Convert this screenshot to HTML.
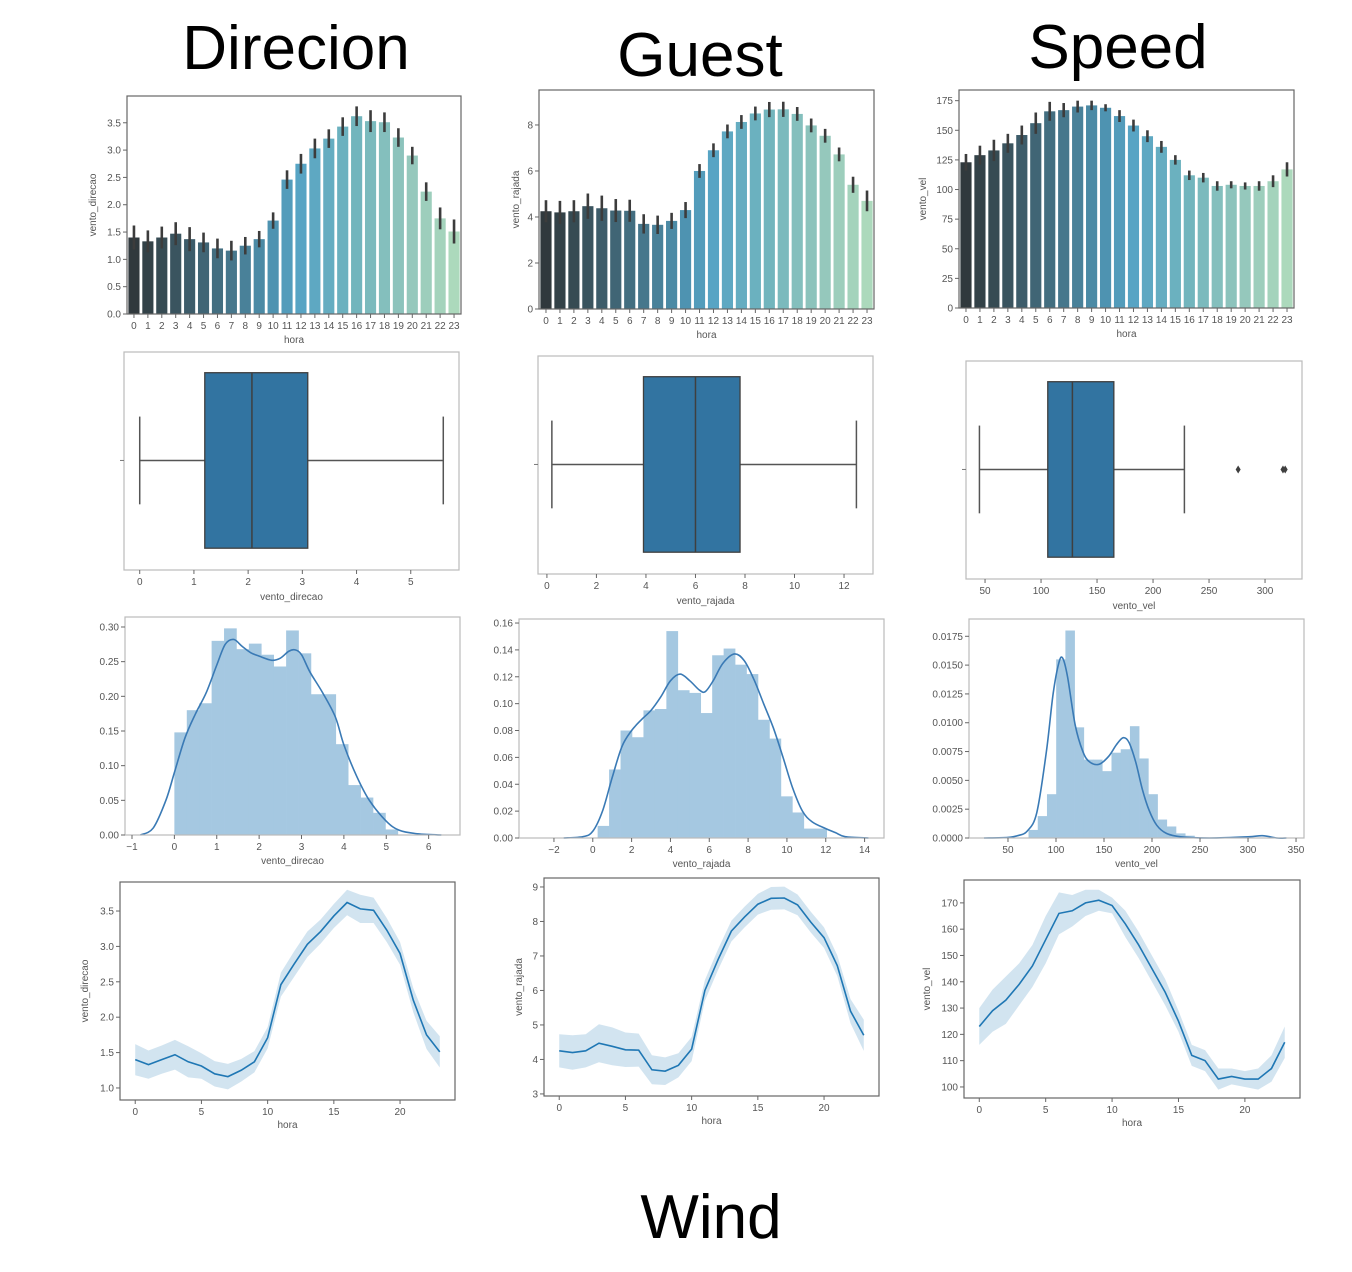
<!DOCTYPE html>
<html><head><meta charset="utf-8"><style>
html,body{margin:0;padding:0;background:#fff;width:1352px;height:1272px;overflow:hidden}
svg{display:block}
text{font-family:"Liberation Sans",sans-serif}
</style></head><body>
<svg id="fig" width="1352" height="1272" viewBox="0 0 1352 1272" xmlns="http://www.w3.org/2000/svg">
<text x="296" y="69" font-size="62" text-anchor="middle" fill="#000">Direcion</text>
<text x="700" y="76" font-size="62" text-anchor="middle" fill="#000">Guest</text>
<text x="1118" y="68" font-size="62" text-anchor="middle" fill="#000">Speed</text>
<text x="711" y="1238" font-size="62" text-anchor="middle" fill="#000">Wind</text>
</svg>
<script>
const hours = [0,1,2,3,4,5,6,7,8,9,10,11,12,13,14,15,16,17,18,19,20,21,22,23];
const direcaoMeans = [1.40,1.33,1.40,1.47,1.37,1.31,1.20,1.16,1.25,1.37,1.71,2.46,2.75,3.03,3.21,3.43,3.62,3.53,3.51,3.23,2.90,2.24,1.75,1.51];
const direcaoCI = [0.22,0.2,0.2,0.21,0.22,0.18,0.18,0.18,0.16,0.15,0.15,0.17,0.18,0.18,0.17,0.17,0.18,0.2,0.18,0.17,0.16,0.17,0.2,0.22];
const rajadaMeans = [4.25,4.2,4.25,4.47,4.38,4.28,4.27,3.7,3.66,3.83,4.3,6.0,6.9,7.72,8.13,8.5,8.67,8.68,8.48,7.98,7.53,6.72,5.4,4.7];
const rajadaCI = [0.48,0.5,0.48,0.55,0.55,0.5,0.48,0.42,0.4,0.35,0.35,0.3,0.3,0.3,0.3,0.3,0.33,0.33,0.3,0.3,0.3,0.3,0.35,0.45];
const velMeans = [123,129,133,139,146,156,166,167,170,171,169,162,154,145,136,125,112,110,103,104,103,103,107,117];
const velCI = [7,8,9,8,8,9,8,6,5,4,3,5,5,5,5,4,4,4,4,3,3,4,5,6];

const direcaoBox = [0, 1.2, 2.07, 3.1, 5.6];
const rajadaBox = [0.2, 3.9, 6.0, 7.8, 12.5];
const velBox = [45, 106, 128, 165, 228];
const velOutliers = [276, 316, 318];

const direcaoBinStart = 0, direcaoBinWidth = 0.293;
const direcaoHist = [0.148,0.18,0.19,0.28,0.298,0.268,0.276,0.26,0.243,0.295,0.262,0.203,0.203,0.131,0.072,0.054,0.032,0.008];
const direcaoKdeX = [-0.8,-0.5,-0.2,0,0.25,0.5,0.75,1,1.2,1.4,1.6,1.8,2.0,2.3,2.5,2.7,2.85,3.0,3.2,3.5,3.8,4.0,4.3,4.6,5.0,5.3,5.7,6.3];
const direcaoKdeY = [0,0.01,0.05,0.09,0.14,0.175,0.205,0.245,0.275,0.282,0.272,0.263,0.258,0.252,0.255,0.265,0.267,0.26,0.235,0.205,0.17,0.13,0.085,0.05,0.02,0.007,0.002,0];
const rajadaBinStart = 0.25, rajadaBinWidth = 0.59;
const rajadaHist = [0.009,0.051,0.080,0.075,0.095,0.096,0.154,0.110,0.108,0.093,0.136,0.141,0.129,0.122,0.088,0.074,0.031,0.019,0.007,0.007];
const rajadaKdeX = [-1.5,-0.5,0,0.5,1,1.5,2,2.5,3,3.5,4,4.5,5,5.5,5.8,6.2,6.7,7.3,7.8,8.3,8.8,9.3,9.8,10.3,10.8,11.3,12,12.5,13,14.2];
const rajadaKdeY = [0,0.001,0.005,0.02,0.045,0.068,0.08,0.088,0.095,0.105,0.117,0.122,0.117,0.11,0.109,0.117,0.13,0.137,0.132,0.118,0.1,0.082,0.06,0.037,0.02,0.012,0.007,0.004,0.001,0];
const velBinStart = 71.4, velBinWidth = 9.6;
const velHist = [0.0007,0.0019,0.0038,0.0155,0.018,0.0096,0.0068,0.0068,0.0058,0.0074,0.0077,0.0097,0.0069,0.0038,0.0016,0.0010,0.0004,0.0002];
const velKdeX = [25,50,60,70,80,90,97,103,107,112,120,128,135,145,155,163,170,176,183,190,197,205,215,230,260,300,315,330,340];
const velKdeY = [0,0.00005,0.0002,0.0006,0.0022,0.0075,0.0125,0.0152,0.0156,0.014,0.0098,0.0075,0.0066,0.0064,0.0071,0.0081,0.0087,0.0083,0.0066,0.0042,0.0024,0.0011,0.0004,0.0001,0,0.0001,0.0002,0,0];

const NS = "http://www.w3.org/2000/svg";
const fig = document.getElementById('fig');
function mk(tag, attrs, parent){ const e=document.createElementNS(NS,tag); for(const k in attrs) e.setAttribute(k,attrs[k]); (parent||fig).appendChild(e); return e; }
function lin(d0,d1,r0,r1){ return v => r0 + (v-d0)*(r1-r0)/(d1-d0); }
function smoothPath(pts){
  let d='M'+pts[0][0]+' '+pts[0][1];
  for(let i=0;i<pts.length-1;i++){
    const p0=pts[i-1]||pts[i], p1=pts[i], p2=pts[i+1], p3=pts[i+2]||p2;
    const c1=[p1[0]+(p2[0]-p0[0])/6, p1[1]+(p2[1]-p0[1])/6];
    const c2=[p2[0]-(p3[0]-p1[0])/6, p2[1]-(p3[1]-p1[1])/6];
    d+=` C${c1[0]} ${c1[1]} ${c2[0]} ${c2[1]} ${p2[0]} ${p2[1]}`;
  }
  return d;
}

function frame(g,L,T,R,B,light){
  const f=mk('rect',{x:L,y:T,width:R-L,height:B-T,fill:'none',stroke:light?'#bbb':'#666','stroke-width':1.2},g);
  
  
}
function yTicks(g,L,ys,vals,labels){
  vals.forEach((v,i)=>{
    const y=ys(v);
    mk('line',{x1:L-4,x2:L,y1:y,y2:y,stroke:'#666'},g);
    const t=mk('text',{x:L-6,y:y+3.5,'font-size':10,'text-anchor':'end',fill:'#555'},g);
    t.textContent=labels[i];
    
    
  });
}
function xTicks(g,B,xs,vals,labels){
  vals.forEach((v,i)=>{
    const x=xs(v);
    mk('line',{x1:x,x2:x,y1:B,y2:B+4,stroke:'#666'},g);
    const t=mk('text',{x:x,y:B+15,'font-size':10,'text-anchor':'middle',fill:'#555'},g);
    t.textContent=labels[i];
    
    
  });
}
function xLabel(g,x,y,s){ const t=mk('text',{x:x,y:y,'font-size':10,'text-anchor':'middle',fill:'#555'},g); t.textContent=s;
  
   }
function yLabel(g,x,y,s){ const t=mk('text',{x:x,y:y,'font-size':10,'text-anchor':'middle',fill:'#555',transform:`rotate(-90 ${x} ${y})`},g); t.textContent=s;
  
   }

const pal=[[48,57,61],[67,110,128],[78,147,177],[87,164,196],[114,181,189],[149,200,188],[172,217,188]];
const palPos=[0,6,10,12,16,20,23];
function barColor(i){
  for(let k=0;k<palPos.length-1;k++){ if(i<=palPos[k+1]){ const f=(i-palPos[k])/(palPos[k+1]-palPos[k]); const c=pal[k].map((a,j)=>Math.round(a+(pal[k+1][j]-a)*f)); return `rgb(${c})`; } }
  return `rgb(${pal[pal.length-1]})`;
}

function barPanel(name,L,T,R,B,ymax,means,ci,tv,tl,ylab,ylx){
  const g=mk('g',{});
  
  
  const ys=lin(0,ymax,B,T); const band=(R-L)/hours.length;
  hours.forEach((h,i)=>{
    const cx=L+band*(i+0.5);
    const r=mk('rect',{x:cx-band*0.4,y:ys(means[i]),width:band*0.8,height:B-ys(means[i]),fill:barColor(i)},g);
    
    
    const e=mk('line',{x1:cx,x2:cx,y1:ys(means[i]-ci[i]),y2:ys(means[i]+ci[i]),stroke:'#3c3c3c','stroke-width':2.6},g);
    
    
  });
  frame(g,L,T,R,B,false);
  yTicks(g,L,ys,tv,tl);
  xTicks(g,B,i=>L+band*(i+0.5),hours.map((h,i)=>i),hours.map(String));
  xLabel(g,(L+R)/2,B+29,'hora');
  yLabel(g,ylx,(T+B)/2,ylab);
}
function boxPanel(name,L,T,R,B,d0,d1,box,outl,tv,xlab){
  const g=mk('g',{});
  
  
  const xs=lin(d0,d1,L,R); const h=B-T; const bt=T+h*0.095, bb=B-h*0.1, cy=(bt+bb)/2, ch=(bb-bt)/4;
  frame(g,L,T,R,B,true);
  mk('line',{x1:L-4,x2:L,y1:cy,y2:cy,stroke:'#777'},g);
  mk('line',{x1:xs(box[0]),x2:xs(box[1]),y1:cy,y2:cy,stroke:'#555','stroke-width':1.5},g);
  mk('line',{x1:xs(box[3]),x2:xs(box[4]),y1:cy,y2:cy,stroke:'#555','stroke-width':1.5},g);
  mk('line',{x1:xs(box[0]),x2:xs(box[0]),y1:cy-ch,y2:cy+ch,stroke:'#555','stroke-width':1.5},g);
  mk('line',{x1:xs(box[4]),x2:xs(box[4]),y1:cy-ch,y2:cy+ch,stroke:'#555','stroke-width':1.5},g);
  const r=mk('rect',{x:xs(box[1]),y:bt,width:xs(box[3])-xs(box[1]),height:bb-bt,fill:'#3274a1',stroke:'#3f3f3f','stroke-width':1.3},g);
  
  
  mk('line',{x1:xs(box[2]),x2:xs(box[2]),y1:bt,y2:bb,stroke:'#3f3f3f','stroke-width':1.5},g);
  outl.forEach(v=>{ const o=mk('path',{d:`M${xs(v)} ${cy-4} L${xs(v)+2.5} ${cy} L${xs(v)} ${cy+4} L${xs(v)-2.5} ${cy} Z`,fill:'#3f3f3f'},g);
    
     });
  xTicks(g,B,xs,tv,tv.map(String));
  xLabel(g,(L+R)/2,B+30,xlab);
}
function histPanel(name,L,T,R,B,x0,x1,ymax,bs,bw,hist,kx,ky,xt,yt,ytl,xlab){
  const g=mk('g',{});
  
  
  const xs=lin(x0,x1,L,R), ys=lin(0,ymax,B,T);
  hist.forEach((v,i)=>{ const a=xs(bs+bw*i), b=xs(bs+bw*(i+1));
    const r=mk('rect',{x:a,y:ys(v),width:b-a+0.3,height:B-ys(v),fill:'#a5c8e1'},g);
    
     });
  const p=mk('path',{d:smoothPath(kx.map((x,i)=>[xs(x),ys(ky[i])])),fill:'none',stroke:'#3a7ab5','stroke-width':1.6},g);
  
  
  frame(g,L,T,R,B,true);
  yTicks(g,L,ys,yt,ytl);
  xTicks(g,B,xs,xt,xt.map(v=>v<0?'\u2212'+(-v):String(v)));
  xLabel(g,(L+R)/2,B+29,xlab);
}
function linePanel(name,L,T,R,B,y0,y1,means,ci,yt,ylab,ylx){
  const g=mk('g',{});
  
  
  const xs=lin(-1.15,24.15,L,R), ys=lin(y0,y1,B,T);
  const up=hours.map((h,i)=>xs(h)+','+ys(means[i]+ci[i])), dn=hours.map((h,i)=>xs(h)+','+ys(means[i]-ci[i])).reverse();
  const band=mk('polygon',{points:up.concat(dn).join(' '),fill:'#1f77b4','fill-opacity':0.2},g);
  
  
  const p=mk('polyline',{points:hours.map((h,i)=>xs(h)+','+ys(means[i])).join(' '),fill:'none',stroke:'#1f77b4','stroke-width':1.6},g);
  
  
  frame(g,L,T,R,B,false);
  yTicks(g,L,ys,yt,yt.map(v=>(y1<20)?(y1<5?v.toFixed(1):String(v)):String(v)));
  xTicks(g,B,xs,[0,5,10,15,20],['0','5','10','15','20']);
  xLabel(g,(L+R)/2,B+28,'hora');
  yLabel(g,ylx,(T+B)/2,ylab);
}

barPanel('bar-direcao',127,96,461,314,3.99,direcaoMeans,direcaoCI,[0,0.5,1,1.5,2,2.5,3,3.5],['0.0','0.5','1.0','1.5','2.0','2.5','3.0','3.5'],'vento_direcao',96);
barPanel('bar-rajada',539,90,874,309,9.52,rajadaMeans,rajadaCI,[0,2,4,6,8],['0','2','4','6','8'],'vento_rajada',519);
barPanel('bar-vel',959,90,1294,308,184,velMeans,velCI,[0,25,50,75,100,125,150,175],['0','25','50','75','100','125','150','175'],'vento_vel',926);

boxPanel('box-direcao',124,352,459,570,-0.29,5.89,direcaoBox,[],[0,1,2,3,4,5],'vento_direcao');
boxPanel('box-rajada',538,356,873,574,-0.36,13.17,rajadaBox,[],[0,2,4,6,8,10,12],'vento_rajada');
boxPanel('box-vel',966,361,1302,579,33,333,velBox,velOutliers,[50,100,150,200,250,300],'vento_vel');

histPanel('dist-direcao',125,617,460,835,-1.165,6.74,0.3144,direcaoBinStart,direcaoBinWidth,direcaoHist,direcaoKdeX,direcaoKdeY,[-1,0,1,2,3,4,5,6],[0,0.05,0.1,0.15,0.2,0.25,0.3],['0.00','0.05','0.10','0.15','0.20','0.25','0.30'],'vento_direcao');
histPanel('dist-rajada',519,619,884,838,-3.8,15.0,0.163,rajadaBinStart,rajadaBinWidth,rajadaHist,rajadaKdeX,rajadaKdeY,[-2,0,2,4,6,8,10,12,14],[0,0.02,0.04,0.06,0.08,0.1,0.12,0.14,0.16],['0.00','0.02','0.04','0.06','0.08','0.10','0.12','0.14','0.16'],'vento_rajada');
histPanel('dist-vel',969,619,1304,838,9.4,358.3,0.019,velBinStart,velBinWidth,velHist,velKdeX,velKdeY,[50,100,150,200,250,300,350],[0,0.0025,0.005,0.0075,0.01,0.0125,0.015,0.0175],['0.0000','0.0025','0.0050','0.0075','0.0100','0.0125','0.0150','0.0175'],'vento_vel');

linePanel('line-direcao',120,882,455,1100,0.83,3.91,direcaoMeans,direcaoCI,[1.0,1.5,2.0,2.5,3.0,3.5],'vento_direcao',88);
linePanel('line-rajada',544,878,879,1096,2.94,9.26,rajadaMeans,rajadaCI,[3,4,5,6,7,8,9],'vento_rajada',522);
linePanel('line-vel',964,880,1300,1098,95.8,178.7,velMeans,velCI,[100,110,120,130,140,150,160,170],'vento_vel',930);
</script>
</body></html>
